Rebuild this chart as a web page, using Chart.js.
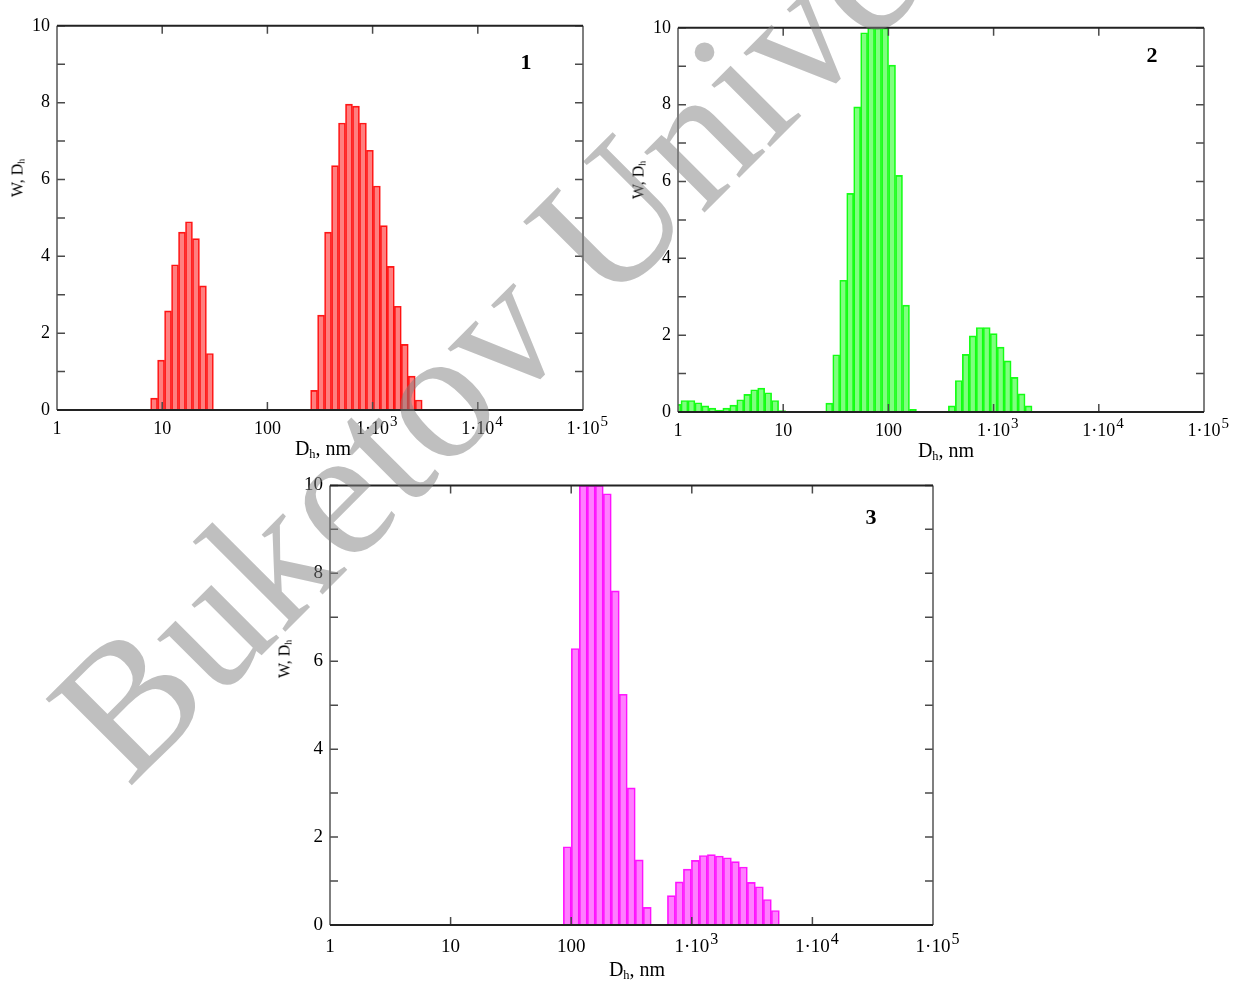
<!DOCTYPE html>
<html>
<head>
<meta charset="utf-8">
<script src="https://cdn.jsdelivr.net/npm/chart.js@4.4.0/dist/chart.umd.min.js"></script>
<style>
  body { margin: 0; background: #fff; width: 1235px; height: 981px; position: relative; overflow: hidden; }
  .panel { position: absolute; }
  .t { position: absolute; transform: translate(-50%, -50%); white-space: nowrap; font-family: "Liberation Serif", serif; color: #000; line-height: 1; }
  .t sub { font-size: 0.62em; vertical-align: -0.2em; }
  .ytitle { transform: translate(-50%, -50%) rotate(-90deg); font-size: 16px; }
  .xtitle { font-size: 20px; }
  .num { font-size: 22px; font-weight: bold; }
  #wm { position: absolute; left: 0; top: 0; z-index: 10; pointer-events: none; }
</style>
</head>
<body>

<div class="panel" style="left:7px;top:8px"><canvas id="chart1" width="616" height="442"></canvas></div>
<div class="panel" style="left:628px;top:10px"><canvas id="chart2" width="616" height="442"></canvas></div>
<div class="panel" style="left:280px;top:467px"><canvas id="chart3" width="693" height="498"></canvas></div>

<div class="t ytitle" style="left:18px;top:178px">W, D<sub>h</sub></div>
<div class="t ytitle" style="left:639px;top:180px">W, D<sub>h</sub></div>
<div class="t ytitle" style="left:285px;top:659px">W, D<sub>h</sub></div>

<div class="t xtitle" style="left:323px;top:449px">D<sub>h</sub>, nm</div>
<div class="t xtitle" style="left:946px;top:451px">D<sub>h</sub>, nm</div>
<div class="t xtitle" style="left:637px;top:970px">D<sub>h</sub>, nm</div>

<div class="t num" style="left:526px;top:62px">1</div>
<div class="t num" style="left:1152px;top:55px">2</div>
<div class="t num" style="left:871px;top:517px">3</div>

<svg id="wm" width="1235" height="981">
  <text x="128" y="789" transform="rotate(-45 128 789)" font-family="Liberation Serif, serif" font-size="186" fill="rgba(128,128,128,0.5)">Buketov University</text>
</svg>

<script>
// histogram bin width (decades of D_h) - all panels
const BIN_DEC = 0.0663;

// axis ticks: x labels are base + raised exponent
const X_TICKS = [1, 10, 100, 1000, 10000, 100000];
const X_TICK_BASE = ["1", "10", "100", "1·10", "1·10", "1·10"];
const X_TICK_EXP = ["", "", "", "3", "4", "5"];
const Y_TICKS = [0, 1, 2, 3, 4, 5, 6, 7, 8, 9, 10];

// panel 1 (lower edge of first bin, nm / bar heights)
const p1aStart = 7.76;
const p1aValues = [0.31, 1.30, 2.58, 3.78, 4.63, 4.90, 4.46, 3.23, 1.47];
const p1bStart = 257.5;
const p1bValues = [0.51, 2.47, 4.63, 6.36, 7.47, 7.96, 7.91, 7.47, 6.76, 5.83, 4.80, 3.74, 2.70, 1.71, 0.88, 0.26];

// panel 2
const p2aStart = 0.916;
const p2aValues = [0.20, 0.30, 0.30, 0.24, 0.16, 0.10, 0.05, 0.10, 0.18, 0.32, 0.46, 0.58, 0.62, 0.50, 0.30, 0.04];
const p2bStart = 25.4;
const p2bValues = [0.23, 1.49, 3.43, 5.69, 7.94, 9.87, 10, 10, 10, 9.03, 6.16, 2.78, 0.07];
const p2cStart = 371.5;
const p2cValues = [0.16, 0.82, 1.50, 1.98, 2.20, 2.20, 2.04, 1.69, 1.33, 0.90, 0.47, 0.16];

// panel 3
const p3aStart = 86.0;
const p3aValues = [1.78, 6.29, 10, 10, 10, 9.81, 7.60, 5.25, 3.12, 1.48, 0.40];
const p3bStart = 627.6;
const p3bValues = [0.67, 0.98, 1.27, 1.47, 1.58, 1.60, 1.57, 1.53, 1.44, 1.32, 0.97, 0.87, 0.58, 0.33];

const FONT = "'Liberation Serif', 'Times New Roman', serif";
const Y_AXIS_W = 50;
const X_AXIS_H = 40;
const PAD_TOP = 15;
const PAD_RIGHT = 40;

// bin centres from lower edge of each cluster
function buildBars(clusters) {
    const pts = [];
    clusters.forEach(c => {
        c.values.forEach((v, i) => {
            pts.push({ x: c.start * Math.pow(10, (i + 0.5) * BIN_DEC), y: v });
        });
    });
    return pts;
}

// box frame with inward ticks on all four sides + x tick labels with exponents
const framePlugin = {
    id: "frame",
    afterDatasetsDraw(chart, args, opts) {
        const { ctx, chartArea: a, scales: { x, y } } = chart;
        ctx.save();
        ctx.strokeStyle = "#4a4a4a";
        ctx.lineWidth = 1.5;
        ctx.beginPath();
        Y_TICKS.forEach(v => {
            const py = y.getPixelForValue(v);
            ctx.moveTo(a.left, py); ctx.lineTo(a.left + 8, py);
            ctx.moveTo(a.right, py); ctx.lineTo(a.right - 8, py);
        });
        X_TICKS.slice(1, -1).forEach(v => {
            const px = x.getPixelForValue(v);
            ctx.moveTo(px, a.top); ctx.lineTo(px, a.top + 8);
            ctx.moveTo(px, a.bottom); ctx.lineTo(px, a.bottom - 8);
        });
        ctx.stroke();

        ctx.strokeStyle = "#555";
        ctx.lineWidth = 1.5;
        ctx.beginPath();
        ctx.moveTo(a.left, a.top); ctx.lineTo(a.left, a.bottom);
        ctx.moveTo(a.right, a.top); ctx.lineTo(a.right, a.bottom);
        ctx.stroke();

        ctx.strokeStyle = "#222";
        ctx.lineWidth = 2;
        ctx.beginPath();
        ctx.moveTo(a.left, a.top); ctx.lineTo(a.right, a.top);
        ctx.moveTo(a.left, a.bottom); ctx.lineTo(a.right, a.bottom);
        ctx.stroke();

        // x tick labels
        const size = opts.fontSize;
        const base = a.bottom + opts.labelOffset;
        ctx.fillStyle = "#000";
        ctx.textBaseline = "alphabetic";
        X_TICKS.forEach((v, i) => {
            const px = x.getPixelForValue(v);
            ctx.font = size + "px " + FONT;
            const w = ctx.measureText(X_TICK_BASE[i]).width;
            ctx.textAlign = "left";
            ctx.fillText(X_TICK_BASE[i], px - w / 2, base);
            if (X_TICK_EXP[i]) {
                ctx.font = Math.round(size * 0.85) + "px " + FONT;
                ctx.fillText(X_TICK_EXP[i], px + w / 2 + 1, base - size * 0.42);
            }
        });
        ctx.restore();
    }
};

function renderPanel(canvasId, clusters, fill, line, fontSize, labelOffset) {
    const ctx = document.getElementById(canvasId).getContext("2d");
    new Chart(ctx, {
        type: "bar",
        data: {
            datasets: [{
                data: buildBars(clusters),
                backgroundColor: fill,
                borderColor: line,
                borderWidth: 1,
                barPercentage: 1,
                categoryPercentage: 1,
                clip: 0
            }]
        },
        options: {
            responsive: false,
            animation: false,
            layout: { padding: { top: PAD_TOP, right: PAD_RIGHT, left: 0, bottom: 0 } },
            plugins: {
                legend: { display: false },
                tooltip: { enabled: false },
                frame: { fontSize: fontSize, labelOffset: labelOffset }
            },
            scales: {
                x: {
                    type: "logarithmic",
                    min: 1,
                    max: 100000,
                    offset: false,
                    grid: { display: false, drawTicks: false, offset: false },
                    border: { display: false },
                    afterBuildTicks: scale => { scale.ticks = X_TICKS.map(v => ({ value: v })); },
                    afterFit: scale => { scale.height = X_AXIS_H; },
                    ticks: { display: false }
                },
                y: {
                    type: "linear",
                    min: 0,
                    max: 10,
                    grid: { display: false, drawTicks: false },
                    border: { display: false },
                    afterFit: scale => { scale.width = Y_AXIS_W; },
                    ticks: {
                        stepSize: 1,
                        padding: 7,
                        color: "#000",
                        font: { family: FONT, size: fontSize },
                        callback: value => (value % 2 === 0 ? String(value) : "")
                    }
                }
            }
        },
        plugins: [framePlugin]
    });
}

renderPanel("chart1",
    [{ start: p1aStart, values: p1aValues }, { start: p1bStart, values: p1bValues }],
    "rgba(255, 0, 0, 0.5)", "#ff1a1a", 18, 24);

renderPanel("chart2",
    [{ start: p2aStart, values: p2aValues }, { start: p2bStart, values: p2bValues }, { start: p2cStart, values: p2cValues }],
    "rgba(0, 255, 0, 0.5)", "#1aff1a", 18, 24);

renderPanel("chart3",
    [{ start: p3aStart, values: p3aValues }, { start: p3bStart, values: p3bValues }],
    "rgba(255, 0, 255, 0.5)", "#ff1aff", 19, 27);
</script>
</body>
</html>
